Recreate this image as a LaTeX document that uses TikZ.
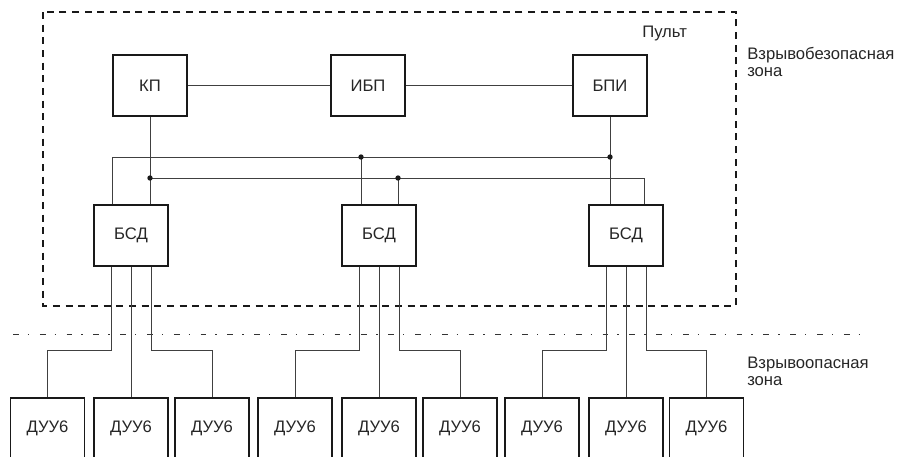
\documentclass[tikz,border=0pt]{standalone}
\usepackage{fontspec}
\setmainfont{Liberation Sans}
\tikzset{
  blk/.style={draw=black!90, line width=1.25pt, minimum width=55.5pt, minimum height=45.75pt,
    inner sep=0pt, text=black!85, font=\fontsize{12.5}{15}\selectfont},
  wire/.style={line width=0.75pt, draw=black!75},
  zone/.style={align=left, anchor=north west, inner sep=0pt, text=black!85,
    font=\fontsize{12.5}{12.75}\selectfont},
  jn/.style={circle, fill=black!90, inner sep=0pt, minimum size=4pt},
}

\begin{document}
\begin{tikzpicture}[x=0.75pt, y=-0.75pt]
  \clip (0,0) rectangle (897,457);
  % zones
  \draw[line width=1.3pt, draw=black!90, dash pattern=on 5.2pt off 4.3pt] (43,12) rectangle (736,306);
  \draw[line width=0.6pt, draw=black!80, dash pattern=on 4.3pt off 6.8pt on 1pt off 8pt] (13,334) -- (870,334);
  \node (pult) [anchor=base west, inner sep=0pt, text=black!85, font=\fontsize{12.5}{15}\selectfont] at (642,37) {Пульт};
  \node (safe) [zone] at (747,47) {Взрывобезопасная\\зона};
  \node (hazard) [zone] at (747,357) {Взрывоопасная\\зона};
  % blocks
  \node (kp) [blk] at (150,85.5) {КП};
  \node (ibp) [blk] at (368,85.5) {ИБП};
  \node (bpi) [blk] at (610,85.5) {БПИ};
  \node (bsd1) [blk] at (131,235.5) {БСД};
  \node (bsd2) [blk] at (379,235.5) {БСД};
  \node (bsd3) [blk] at (626,235.5) {БСД};
  \foreach \x [count=\i] in {47.5,131,212,295,379,460,542,626,706.5}
    \node (duu\i) [blk] at (\x,428.5) {ДУУ6};
  \coordinate (busA) at (0,157);
  \coordinate (busB) at (0,178);
  % upper wiring
  \draw[wire] (kp) -- (ibp) -- (bpi);
  \draw[wire] (kp.south) -- (kp.south |- bsd1.north);
  \draw[wire] (bpi.south) -- (bpi.south |- bsd3.north);
  \draw[wire] (bpi.south |- busA) -| ([xshift=-14.25pt]bsd1.north);
  \draw[wire] (kp.south |- busB) -| ([xshift=13.5pt]bsd3.north);
  \draw[wire] ([xshift=-13.5pt]bsd2.north) -- ([xshift=-13.5pt]bsd2.north |- busA);
  \draw[wire] ([xshift=14.25pt]bsd2.north) -- ([xshift=14.25pt]bsd2.north |- busB);
  \node (d1) [jn] at (kp.south |- busB) {};
  \node (d2) [jn] at (bpi.south |- busA) {};
  \node (d3) [jn] at ([xshift=-13.5pt]bsd2.north |- busA) {};
  \node (d4) [jn] at ([xshift=14.25pt]bsd2.north |- busB) {};
  % lower wiring
  \foreach \b/\l/\m/\r in {1/1/2/3, 2/4/5/6, 3/7/8/9} {
    \draw[wire] ([xshift=-15pt]bsd\b.south) -- ++(0,84) -| (duu\l.north);
    \draw[wire] (bsd\b.south) -- (duu\m.north);
    \draw[wire] ([xshift=15pt]bsd\b.south) -- ++(0,84) -| (duu\r.north);
  }
\end{tikzpicture}
\end{document}
